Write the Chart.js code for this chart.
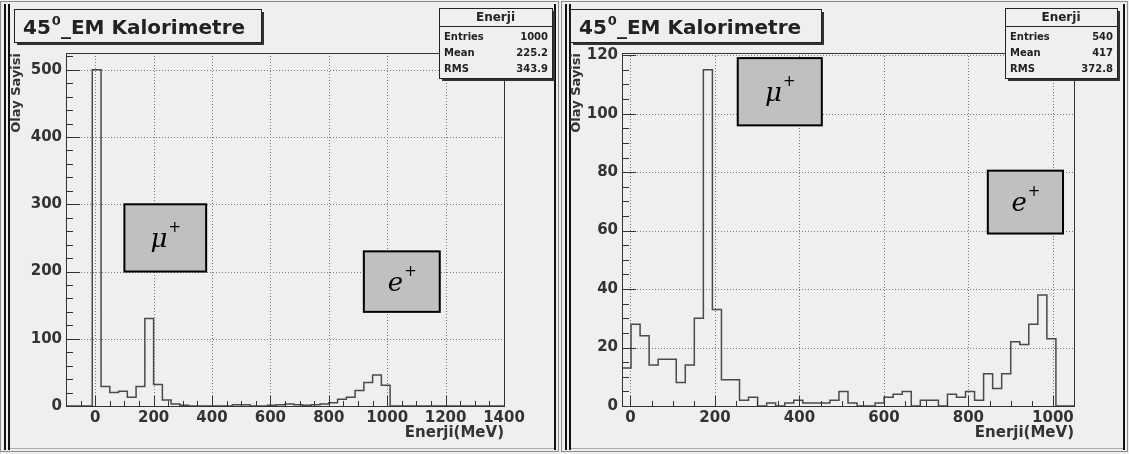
<!DOCTYPE html>
<html><head><meta charset="utf-8">
<script src="https://cdn.jsdelivr.net/npm/chart.js@4/dist/chart.umd.min.js"></script>
<style>
html,body{margin:0;padding:0;background:#f0efed;}
#wrap{position:relative;width:1129px;height:454px;overflow:hidden;background:#f0efed}
#c1{position:absolute;left:0;top:0}
#c2{position:absolute;left:560px;top:0}
</style></head>
<body><div id="wrap"><canvas id="c1" width="560" height="454"></canvas><canvas id="c2" width="569" height="454"></canvas></div>
<script>
// ---- data ----
const panelTitle = ['45', '0', '_EM Kalorimetre'];
const histName = 'Enerji';
const xAxisTitle = 'Enerji(MeV)';
const yAxisTitle = 'Olay Sayisi';

const leftRange = [-100, 1400];
const leftCounts = [0,0,0,500,29,20,22,13,29,130,32,9,3,1,0,0,0,0,0,2,2,0,0,1,2,3,2,1,2,3,5,10,13,23,35,46,31,0,0,0,0,0,0,0,0,0,0,0,0,0];
const leftXTicks = [0,200,400,600,800,1000,1200,1400];
const leftYTicks = [0,100,200,300,400,500];
const leftStats = [['Entries','1000'],['Mean','225.2'],['RMS','343.9']];

const rightRange = [-20, 1050];
const rightCounts = [13,28,24,14,16,16,8,14,30,115,33,9,9,2,3,0,1,0,1,2,1,1,1,2,5,1,0,0,1,3,4,5,0,2,2,0,4,3,5,2,11,6,11,22,21,28,38,23,0,0];
const rightXTicks = [0,200,400,600,800,1000];
const rightYTicks = [0,20,40,60,80,100,120];
const rightStats = [['Entries','540'],['Mean','417'],['RMS','372.8']];

const FONT = '"DejaVu Sans", "Liberation Sans", Arial, sans-serif';

function histPoints(range, counts) {
  const w = (range[1] - range[0]) / counts.length;
  const pts = [{x: range[0], y: 0}];
  counts.forEach((c, i) => pts.push({x: range[0] + i * w, y: c}));
  pts.push({x: range[1], y: counts[counts.length - 1]});
  pts.push({x: range[1], y: 0});
  return pts;
}

function decoPlugin(o) {
  return {
    id: 'rootDeco',
    beforeDraw(chart) {
      const ctx = chart.ctx, W = chart.width, H = chart.height;
      ctx.save();
      ctx.fillStyle = '#f0efed';
      ctx.fillRect(0, 0, W, H);
      ctx.strokeStyle = '#8c8c8c'; ctx.lineWidth = 1;
      ctx.strokeRect(o.frame[0] + 0.5, 1.5, o.frame[1] - o.frame[0], H - 4);
      ctx.strokeStyle = '#111'; ctx.lineWidth = 2;
      ctx.beginPath();
      ctx.moveTo(o.frame[0] + 5, 4); ctx.lineTo(o.frame[0] + 5, H - 4);
      ctx.moveTo(o.frame[0] + 9, 4); ctx.lineTo(o.frame[0] + 9, H - 4);
      ctx.moveTo(o.frame[1] - 3, 4); ctx.lineTo(o.frame[1] - 3, H - 4);
      ctx.stroke();
      ctx.strokeStyle = '#aaa'; ctx.lineWidth = 1;
      ctx.beginPath(); ctx.moveTo(o.frame[0] + 10, H - 5.5); ctx.lineTo(o.frame[1] - 4, H - 5.5); ctx.stroke();
      ctx.restore();
    },
    beforeDatasetsDraw(chart) {
      const {ctx, chartArea: a, scales: {x, y}} = chart;
      ctx.save();
      ctx.strokeStyle = '#7a7a7a'; ctx.lineWidth = 1; ctx.setLineDash([1, 2]);
      ctx.beginPath();
      o.xTicks.forEach(v => { const p = Math.round(x.getPixelForValue(v)) + 0.5; ctx.moveTo(p, a.top); ctx.lineTo(p, a.bottom); });
      o.yTicks.forEach(v => { const p = Math.round(y.getPixelForValue(v)) + 0.5; ctx.moveTo(a.left, p); ctx.lineTo(a.right, p); });
      ctx.stroke();
      ctx.restore();
    },
    afterDatasetsDraw(chart) {
      const {ctx, chartArea: a, scales: {x, y}} = chart;
      ctx.save();
      ctx.strokeStyle = '#333'; ctx.lineWidth = 1;
      ctx.strokeRect(Math.round(a.left) + 0.5, Math.round(a.top) + 0.5, Math.round(a.right - a.left), Math.round(a.bottom - a.top));
      ctx.beginPath();
      for (let v = Math.ceil(x.min / o.xMinor) * o.xMinor; v <= x.max; v += o.xMinor) {
        const p = Math.round(x.getPixelForValue(v)) + 0.5;
        const len = o.xTicks.includes(v) ? 10 : 5;
        ctx.moveTo(p, a.bottom); ctx.lineTo(p, a.bottom - len);
      }
      for (let v = 0; v <= y.max; v += o.yMinor) {
        const p = Math.round(y.getPixelForValue(v)) + 0.5;
        const len = o.yTicks.includes(v) ? 14 : 7;
        ctx.moveTo(a.left, p); ctx.lineTo(a.left + len, p);
      }
      ctx.stroke();
      o.boxes.forEach(b => {
        const x0 = x.getPixelForValue(b.x[0]), x1 = x.getPixelForValue(b.x[1]);
        const y0 = y.getPixelForValue(b.y[1]), y1 = y.getPixelForValue(b.y[0]);
        ctx.fillStyle = '#c0c0c0';
        ctx.fillRect(x0, y0, x1 - x0, y1 - y0);
        ctx.strokeStyle = '#000'; ctx.lineWidth = 2;
        ctx.strokeRect(x0, y0, x1 - x0, y1 - y0);
        ctx.fillStyle = '#000';
        ctx.textBaseline = 'alphabetic'; ctx.textAlign = 'left';
        ctx.font = 'italic 26px "DejaVu Serif", "Liberation Serif", serif';
        const mw = ctx.measureText(b.sym).width;
        ctx.font = '15px "DejaVu Sans", sans-serif';
        const pw = ctx.measureText('+').width;
        const tx = (x0 + x1) / 2 - (mw + pw) / 2, ty = (y0 + y1) / 2 + 9;
        ctx.font = 'italic 26px "DejaVu Serif", "Liberation Serif", serif';
        ctx.fillText(b.sym, tx, ty);
        ctx.font = '15px "DejaVu Sans", sans-serif';
        ctx.fillText('+', tx + mw + 1, ty - 15);
      });
      ctx.restore();
    },
    afterDraw(chart) {
      const ctx = chart.ctx;
      ctx.save();
      const t = o.titleBox;
      ctx.fillStyle = '#333';
      ctx.fillRect(t.x + 3, t.y + 3, t.w, t.h);
      ctx.fillStyle = '#f0efed';
      ctx.fillRect(t.x, t.y, t.w, t.h);
      ctx.strokeStyle = '#222'; ctx.lineWidth = 1;
      ctx.strokeRect(t.x + 0.5, t.y + 0.5, t.w, t.h);
      ctx.fillStyle = '#222'; ctx.textBaseline = 'alphabetic'; ctx.textAlign = 'left';
      ctx.font = 'bold 20px ' + FONT;
      let tx = t.x + 9; const ty = t.y + 25;
      ctx.fillText(panelTitle[0], tx, ty); tx += ctx.measureText(panelTitle[0]).width;
      ctx.font = 'bold 13px ' + FONT;
      ctx.fillText(panelTitle[1], tx + 1, ty - 9); tx += ctx.measureText(panelTitle[1]).width + 1;
      ctx.font = 'bold 20px ' + FONT;
      ctx.fillText(panelTitle[2], tx, ty);
      const s = o.statsBox;
      ctx.fillStyle = '#333';
      ctx.fillRect(s.x + 3, s.y + 3, s.w, s.h);
      ctx.fillStyle = '#f0efed';
      ctx.fillRect(s.x, s.y, s.w, s.h);
      ctx.strokeStyle = '#222';
      ctx.strokeRect(s.x + 0.5, s.y + 0.5, s.w, s.h);
      ctx.beginPath(); ctx.moveTo(s.x, s.y + 18.5); ctx.lineTo(s.x + s.w, s.y + 18.5); ctx.stroke();
      ctx.fillStyle = '#222'; ctx.textBaseline = 'middle';
      ctx.font = 'bold 12px ' + FONT; ctx.textAlign = 'center';
      ctx.fillText(histName, s.x + s.w / 2, s.y + 9.5);
      ctx.font = 'bold 10px ' + FONT;
      o.stats.forEach((r, i) => {
        const yy = s.y + 29 + i * 16;
        ctx.textAlign = 'left'; ctx.fillText(r[0], s.x + 5, yy);
        ctx.textAlign = 'right'; ctx.fillText(r[1], s.x + s.w - 4, yy);
      });
      ctx.restore();
    }
  };
}

function makeChart(id, o) {
  const tickFont = {family: FONT, weight: 'bold', size: 15};
  return new Chart(document.getElementById(id), {
    type: 'line',
    data: {datasets: [{
      data: histPoints(o.range, o.counts),
      stepped: true, borderColor: '#4a4a4a', borderWidth: 1.5,
      pointRadius: 0, fill: false, tension: 0
    }]},
    options: {
      responsive: false, animation: false, events: [],
      layout: {padding: {left: 0, right: o.padRight, top: 53, bottom: 0}},
      plugins: {legend: {display: false}, tooltip: {enabled: false}},
      scales: {
        x: {
          type: 'linear', min: o.range[0], max: o.range[1],
          afterBuildTicks: s => { s.ticks = o.xTicks.map(v => ({value: v})); },
          afterFit: s => { s.height = 48; },
          grid: {display: false, drawTicks: false}, border: {display: false},
          ticks: {font: tickFont, color: '#333', padding: 3, maxRotation: 0, autoSkip: false,
                  callback: v => String(v)},
          title: {display: true, text: xAxisTitle, align: 'end', color: '#333',
                  font: {family: FONT, weight: 'bold', size: 15}, padding: {top: 0, bottom: 12}}
        },
        y: {
          type: 'linear', min: 0, max: o.ymax,
          afterBuildTicks: s => { s.ticks = o.yTicks.map(v => ({value: v})); },
          afterFit: s => { s.width = o.yWidth; },
          grid: {display: false, drawTicks: false}, border: {display: false},
          ticks: {font: tickFont, color: '#333', padding: 4, autoSkip: false,
                  callback: v => String(v)},
          title: {display: true, text: yAxisTitle, align: 'end', color: '#333',
                  font: {family: FONT, weight: 'bold', size: 13}, padding: {top: 9, bottom: 0}}
        }
      }
    },
    plugins: [decoPlugin(o)]
  });
}

makeChart('c1', {
  range: leftRange, counts: leftCounts, xTicks: leftXTicks, yTicks: leftYTicks,
  ymax: 525, xMinor: 50, yMinor: 20, padRight: 56, yWidth: 66,
  frame: [0, 558], stats: leftStats,
  titleBox: {x: 14, y: 9, w: 247, h: 33},
  statsBox: {x: 439, y: 8, w: 113, h: 70},
  boxes: [{sym: '\u03BC', x: [100, 380], y: [200, 300]}, {sym: 'e', x: [920, 1180], y: [140, 230]}]
});
makeChart('c2', {
  range: rightRange, counts: rightCounts, xTicks: rightXTicks, yTicks: rightYTicks,
  ymax: 120.75, xMinor: 50, yMinor: 5, padRight: 55, yWidth: 62,
  frame: [1, 567], stats: rightStats,
  titleBox: {x: 10, y: 9, w: 251, h: 33},
  statsBox: {x: 445, y: 8, w: 112, h: 70},
  boxes: [{sym: '\u03BC', x: [254, 453], y: [96, 119]}, {sym: 'e', x: [846, 1024], y: [59, 80.5]}]
});
</script></body></html>
